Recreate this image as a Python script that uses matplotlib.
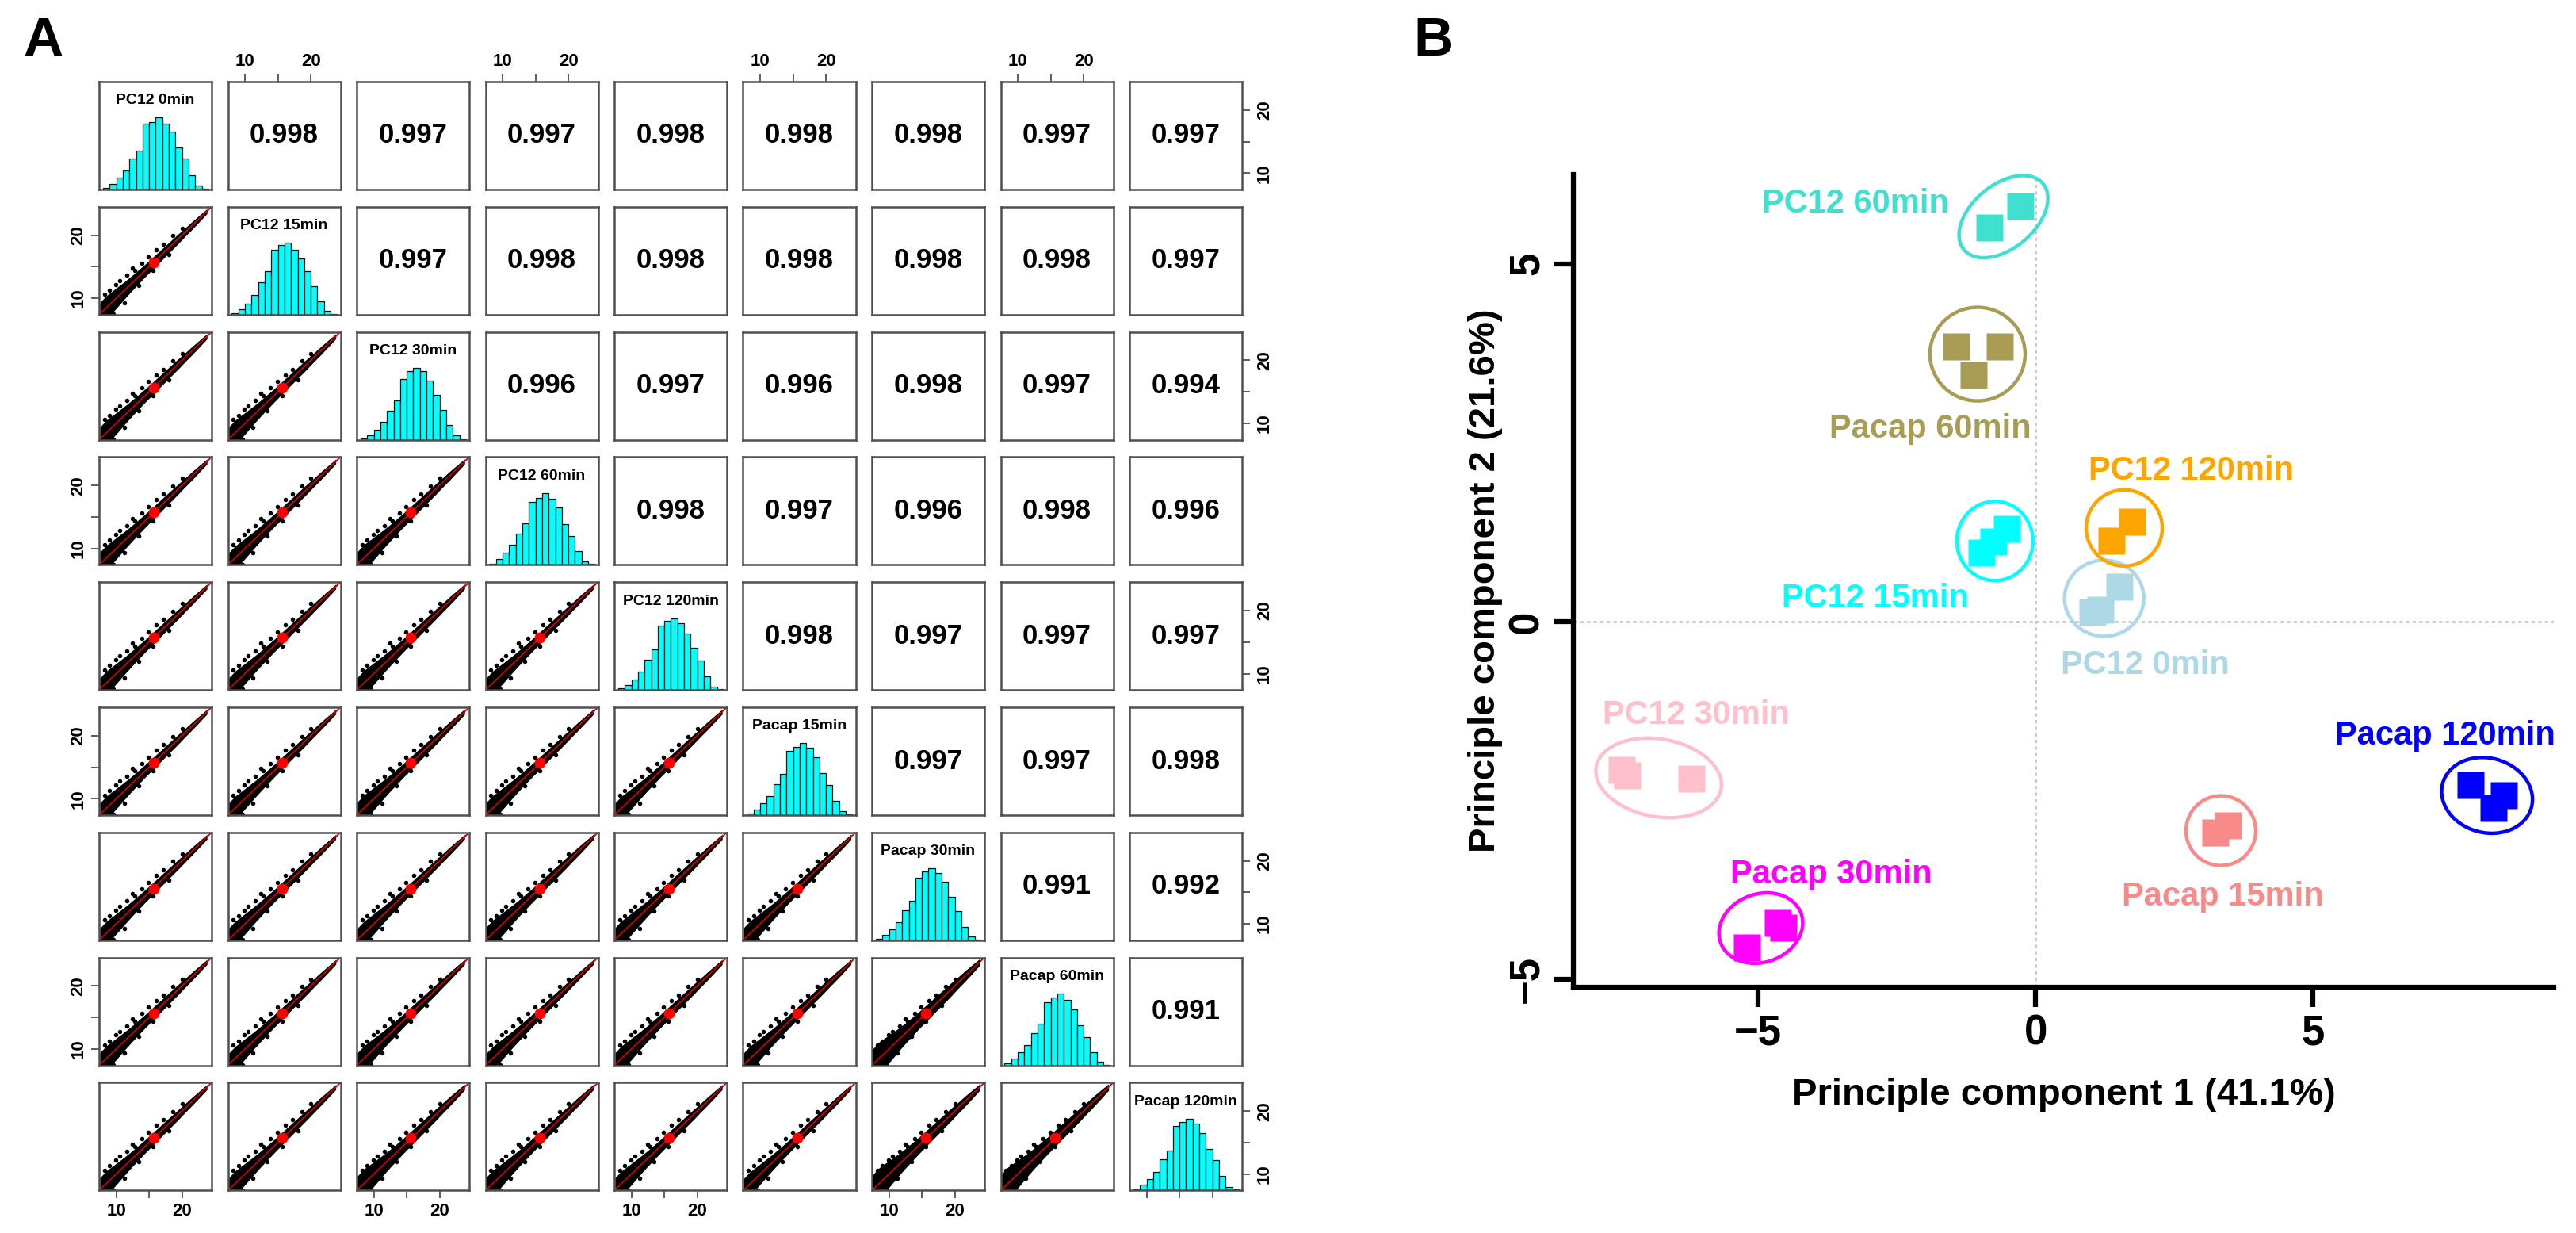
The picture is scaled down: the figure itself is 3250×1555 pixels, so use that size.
import matplotlib
matplotlib.use("Agg")
import matplotlib.pyplot as plt
import matplotlib.transforms as mtransforms
from matplotlib.patches import Ellipse
import numpy as np

plt.rcParams['font.family'] = ['Liberation Sans', 'DejaVu Sans']

W, H = 3250, 1555

# ---------------- panel A data ----------------
samples = ["PC12 0min", "PC12 15min", "PC12 30min", "PC12 60min", "PC12 120min",
           "Pacap 15min", "Pacap 30min", "Pacap 60min", "Pacap 120min"]

# upper triangle of the correlation matrix, row by row
corr_rows = [
    [0.998, 0.997, 0.997, 0.998, 0.998, 0.998, 0.997, 0.997],
    [0.997, 0.998, 0.998, 0.998, 0.998, 0.998, 0.997],
    [0.996, 0.997, 0.996, 0.998, 0.997, 0.994],
    [0.998, 0.997, 0.996, 0.998, 0.996],
    [0.998, 0.997, 0.997, 0.997],
    [0.997, 0.997, 0.998],
    [0.991, 0.992],
    [0.991],
]

# per-sample mean log expression (red dot)
sample_mean = [15.7, 15.7, 15.6, 15.7, 15.7, 15.7, 15.6, 15.7, 15.7]

# histogram bins (width 1) and relative heights per sample
hist_edges = list(range(8, 25))
hist_heights = [
    [0.02, 0.08, 0.16, 0.26, 0.43, 0.54, 0.92, 0.94, 1.00, 0.92, 0.81, 0.58, 0.43, 0.20, 0.05, 0.01],
    [0.02, 0.07, 0.15, 0.27, 0.45, 0.60, 0.90, 0.97, 1.00, 0.90, 0.78, 0.60, 0.40, 0.18, 0.05, 0.01],
    [0.02, 0.06, 0.14, 0.25, 0.40, 0.55, 0.85, 0.95, 1.00, 0.95, 0.82, 0.62, 0.42, 0.20, 0.06, 0.01],
    [0.02, 0.08, 0.17, 0.28, 0.44, 0.58, 0.88, 0.93, 1.00, 0.92, 0.80, 0.57, 0.40, 0.19, 0.05, 0.01],
    [0.02, 0.07, 0.15, 0.26, 0.42, 0.56, 0.90, 0.96, 1.00, 0.93, 0.79, 0.59, 0.41, 0.19, 0.05, 0.01],
    [0.02, 0.08, 0.16, 0.27, 0.43, 0.57, 0.89, 0.95, 1.00, 0.94, 0.80, 0.58, 0.42, 0.20, 0.05, 0.01],
    [0.02, 0.07, 0.15, 0.25, 0.42, 0.55, 0.87, 0.96, 1.00, 0.93, 0.81, 0.60, 0.41, 0.19, 0.05, 0.01],
    [0.03, 0.09, 0.18, 0.28, 0.45, 0.58, 0.88, 0.94, 1.00, 0.91, 0.78, 0.56, 0.39, 0.18, 0.05, 0.01],
    [0.02, 0.08, 0.16, 0.26, 0.44, 0.56, 0.90, 0.95, 1.00, 0.93, 0.80, 0.58, 0.42, 0.20, 0.05, 0.01],
]

# dense point cloud along the diagonal: centre line and half width
band_x = [7.5, 8.5, 9.5, 10.5, 11.5, 12.5, 13.5, 14.5, 15.5, 16.5, 17.5, 18.5, 19.5, 20.5, 21.5, 22.5, 23.8]
band_hw = [1.9, 2.0, 1.8, 1.6, 1.4, 1.25, 1.15, 1.05, 1.0, 0.95, 0.9, 0.85, 0.8, 0.7, 0.65, 0.55, 0.4]
# scattered genes just off the band
out_x = [8.2, 9.0, 9.9, 10.5, 11.6, 12.4, 12.8, 13.9, 14.9, 16.1, 17.2, 18.6, 20.0, 9.6, 11.2, 13.4, 15.6, 18.0]
out_y = [10.6, 11.3, 12.2, 12.8, 13.6, 14.8, 14.4, 15.6, 16.6, 17.7, 18.6, 19.9, 21.1, 7.5, 9.3, 12.0, 14.4, 16.9]

# ---------------- panel B data ----------------
groups = ["PC12 0min", "PC12 15min", "PC12 30min", "PC12 60min", "PC12 120min",
          "Pacap 15min", "Pacap 30min", "Pacap 60min", "Pacap 120min"]
pc1 = [[1.51, 1.03, 1.17],
       [-0.97, -0.76, -0.51],
       [-7.46, -7.36, -6.20],
       [-0.83, -0.27],
       [1.37, 1.74],
       [3.47, 3.24],
       [-4.64, -4.54, -5.20],
       [-1.43, -0.64, -1.11],
       [7.84, 8.44, 8.26]]
pc2 = [[0.49, 0.13, 0.16],
       [0.96, 1.12, 1.30],
       [-2.07, -2.15, -2.20],
       [5.51, 5.81],
       [1.13, 1.40],
       [-2.85, -2.95],
       [-4.21, -4.28, -4.56],
       [3.85, 3.85, 3.45],
       [-2.28, -2.43, -2.61]]

# ---------------- styles ----------------
group_colors = ["#ADD8E6", "#00FFFF", "#FFC0CB", "#40E0D0", "#FFA500",
                "#F88A8A", "#FF00FF", "#A99C55", "#0000FF"]
# ellipse: width px, height px, angle, dx px, dy px (relative to group mean)
ell_style = [(100, 96, 0, 0, 6), (96, 100, 0, 1, 0), (160, 98, -10, 15, -4),
             (130, 80, 40, -2, 0), (96, 96, 0, 3, 4), (88, 88, 0, -1, -2),
             (108, 86, 20, -11, 6), (120, 118, 0, 1, 2), (116, 94, -15, -3, 1)]
# label offset in points from group mean
lab_off = [(37, -53), (-108, -49), (45, 57), (-136, 15), (63, 58),
           (1, -58), (56, 56), (-42, -63), (-40, 58)]

fig = plt.figure(figsize=(W / 100, H / 100), dpi=100)

# ================= panel A: pairs plot =================
n = len(samples)
lo, hi = 7.4, 24.5
frame_col = "#505050"
corr = np.ones((n, n))
for i, row in enumerate(corr_rows):
    for k, r in enumerate(row):
        corr[i, i + 1 + k] = r
        corr[i + 1 + k, i] = r

for i in range(n):
    for j in range(n):
        left = (125 + j * 162.5) / W
        bottom = 1 - (103 + i * 157.8 + 136) / H
        ax = fig.add_axes([left, bottom, 142 / W, 136 / H])
        ax.set_xlim(lo, hi)
        ax.set_ylim(lo, hi)
        for s in ax.spines.values():
            s.set_color(frame_col)
            s.set_linewidth(1.8)
        ax.tick_params(left=False, bottom=False, labelleft=False, labelbottom=False,
                       length=7, width=1.3, color=frame_col, labelsize=16, pad=4)

        if i == j:
            h = np.array(hist_heights[i]) * (hi - lo) / 1.5
            ax.bar(hist_edges[:-1], h, width=1, bottom=lo, align='edge',
                   color='#00FFFF', edgecolor='#111111', linewidth=0.9)
            ax.text(0.5, 0.825, samples[i], transform=ax.transAxes, ha='center',
                    va='center', fontsize=14, fontweight='bold')
        elif i < j:
            ax.text(0.5, 0.5, f"{corr[i, j]:.3f}", transform=ax.transAxes, ha='center',
                    va='center', fontsize=25, fontweight='bold')
        else:
            f = 1 + (0.997 - corr[i, j]) * 50
            bx = np.array(band_x)
            hw = np.array(band_hw) * f
            ax.fill_between(bx, bx - hw, bx + hw, color='black', lw=0)
            ax.scatter(out_x, out_y, s=16, c='black', lw=0)
            ax.plot([lo, hi], [lo, hi], color='#D00000', lw=1.3)
            ax.plot(sample_mean[j], sample_mean[i], 'o', color='red', ms=10, mec='none')

        ticks = [10, 15, 20]
        tlabels = ['10', '', '20']
        if i == 0 and j % 2 == 1:
            ax.set_xticks(ticks)
            ax.set_xticklabels(tlabels, fontweight='bold')
            ax.tick_params(top=True, labeltop=True)
        if i == n - 1 and j % 2 == 0:
            ax.set_xticks(ticks)
            ax.set_xticklabels(tlabels if j < n - 1 else ['', '', ''], fontweight='bold')
            ax.tick_params(bottom=True, labelbottom=True)
        if j == 0 and i % 2 == 1:
            ax.set_yticks(ticks)
            ax.set_yticklabels(tlabels, fontweight='bold', rotation=90, va='center')
            ax.tick_params(left=True, labelleft=True)
        if j == n - 1 and i % 2 == 0:
            ax.set_yticks(ticks)
            ax.set_yticklabels(tlabels, fontweight='bold', rotation=90, va='center')
            ax.tick_params(right=True, labelright=True, pad=6)

# ================= panel B: PCA =================
x0, x1, y0, y1 = 1985, 3222, 220, 1245
axb = fig.add_axes([x0 / W, 1 - y1 / H, (x1 - x0) / W, (y1 - y0) / H])
axb.set_xlim(-8.33, 9.34)
axb.set_ylim(-5.11, 6.25)
axb.axhline(0, color='#C8C8C8', lw=2, ls=(0, (1.5, 1.5)), zorder=0)
axb.axvline(0, color='#C8C8C8', lw=2, ls=(0, (1.5, 1.5)), zorder=0)

for g in range(len(groups)):
    xs, ys, c = pc1[g], pc2[g], group_colors[g]
    axb.plot(xs, ys, 's', ms=24, color=c, mec='none', zorder=3)
    cx, cy = np.mean(xs), np.mean(ys)
    w, hgt, ang, dx, dy = ell_style[g]
    tr = fig.dpi_scale_trans + mtransforms.ScaledTranslation(cx, cy, axb.transData)
    axb.add_patch(Ellipse((dx / 100, dy / 100), w / 100, hgt / 100, angle=ang,
                          transform=tr, fill=False, edgecolor=c, lw=3.2, zorder=4))
    axb.annotate(groups[g], xy=(cx, cy), xytext=lab_off[g], textcoords='offset points',
                 ha='center', va='center_baseline', color=c, fontsize=30,
                 fontweight='bold', zorder=5)

for side in ['top', 'right']:
    axb.spines[side].set_visible(False)
for side in ['left', 'bottom']:
    axb.spines[side].set_linewidth(4.5)
axb.set_xticks([-5, 0, 5])
axb.set_yticks([-5, 0, 5])
axb.tick_params(length=18, width=4.5, labelsize=38, pad=6)
for lbl in axb.get_xticklabels():
    lbl.set_fontweight('bold')
for lbl in axb.get_yticklabels():
    lbl.set_fontweight('bold')
    lbl.set_rotation(90)
    lbl.set_va('center')
axb.set_xlabel("Principle component 1 (41.1%)", fontsize=34, fontweight='bold', labelpad=22)
axb.set_ylabel("Principle component 2 (21.6%)", fontsize=34, fontweight='bold', labelpad=4)

fig.text(29 / W, 1 - 52 / H, "A", fontsize=50, fontweight='bold', va='center', ha='left')
fig.text(1783 / W, 1 - 52 / H, "B", fontsize=50, fontweight='bold', va='center', ha='left')

fig.savefig("out.png", dpi=100)
